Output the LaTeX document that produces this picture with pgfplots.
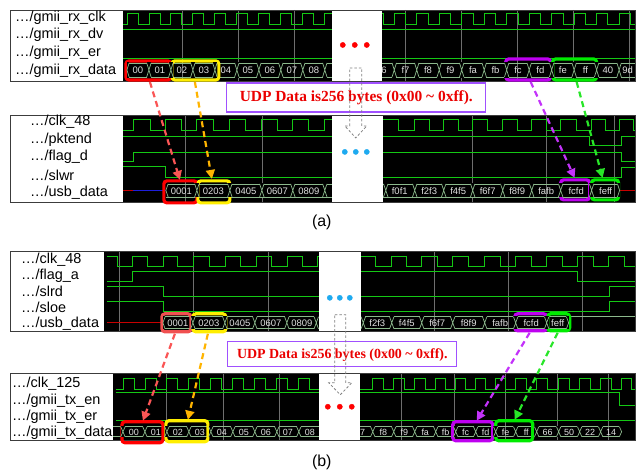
\documentclass[border=0pt]{standalone}
\usepackage{pgfplots}
\pgfplotsset{compat=1.18}
\usepackage{fontspec}
\setmainfont{Liberation Sans}
\newfontfamily\timesf{Liberation Serif}
\usetikzlibrary{arrows.meta}
\definecolor{wave}{RGB}{20,200,20}
\definecolor{busc}{RGB}{140,185,140}
\definecolor{bustxt}{RGB}{225,225,225}
\definecolor{gridc}{RGB}{110,110,110}
\definecolor{framec}{RGB}{60,60,60}
\definecolor{hred}{RGB}{255,0,0}
\definecolor{hredl}{RGB}{240,80,80}
\definecolor{hyel}{RGB}{255,238,0}
\definecolor{hpur}{RGB}{190,0,240}
\definecolor{hgrn}{RGB}{0,235,0}
\definecolor{ared}{RGB}{250,85,85}
\definecolor{aora}{RGB}{255,180,0}
\definecolor{apur}{RGB}{195,50,250}
\definecolor{agrn}{RGB}{40,230,40}
\definecolor{tboxc}{RGB}{160,80,255}
\definecolor{tred}{RGB}{235,0,0}
\definecolor{dotb}{RGB}{30,170,240}
\definecolor{zred}{RGB}{200,0,0}
\definecolor{zblue}{RGB}{30,30,220}
\pgfdeclareplotmark{busx}{%
  \pgfpathrectangle{\pgfpoint{-2.2bp}{-\pgfplotmarksize-0.6bp}}{\pgfpoint{4.4bp}{2\pgfplotmarksize+1.2bp}}%
  \pgfsetfillcolor{black}\pgfusepathqfill
  \pgfpathmoveto{\pgfpoint{-2.2bp}{\pgfplotmarksize}}%
  \pgfpathlineto{\pgfpoint{2.2bp}{-\pgfplotmarksize}}%
  \pgfpathmoveto{\pgfpoint{-2.2bp}{-\pgfplotmarksize}}%
  \pgfpathlineto{\pgfpoint{2.2bp}{\pgfplotmarksize}}%
  \pgfusepathqstroke}
\pgfdeclareplotmark{busl}{%
  \pgfpathrectangle{\pgfpoint{-0.3bp}{-\pgfplotmarksize-0.6bp}}{\pgfpoint{2.5bp}{2\pgfplotmarksize+1.2bp}}%
  \pgfsetfillcolor{black}\pgfusepathqfill
  \pgfpathmoveto{\pgfpoint{2.2bp}{\pgfplotmarksize}}%
  \pgfpathlineto{\pgfpoint{0bp}{0bp}}%
  \pgfpathlineto{\pgfpoint{2.2bp}{-\pgfplotmarksize}}%
  \pgfusepathqstroke}
\pgfdeclareplotmark{busr}{%
  \pgfpathrectangle{\pgfpoint{-2.2bp}{-\pgfplotmarksize-0.6bp}}{\pgfpoint{2.5bp}{2\pgfplotmarksize+1.2bp}}%
  \pgfsetfillcolor{black}\pgfusepathqfill
  \pgfpathmoveto{\pgfpoint{-2.2bp}{\pgfplotmarksize}}%
  \pgfpathlineto{\pgfpoint{0bp}{0bp}}%
  \pgfpathlineto{\pgfpoint{-2.2bp}{-\pgfplotmarksize}}%
  \pgfusepathqstroke}
\tikzset{
  sig/.style={font=\fontsize{14.5}{15}\selectfont, anchor=west, inner sep=0pt, text=black},
  blab/.style={font=\fontsize{9.5}{10}\selectfont, text=bustxt, inner sep=0pt, anchor=center},
  blabs/.style={font=\fontsize{9}{10}\selectfont, text=bustxt, inner sep=0pt, anchor=center},
  hbox/.style={line width=3.2bp, rounded corners=3bp},
  darr/.style={line width=2.2bp, dash pattern=on 6bp off 4bp, -{Triangle[length=9bp,width=9bp]}},
}
\begin{document}
\begin{tikzpicture}
\begin{axis}[scale only axis, width=636bp, height=475bp,
  xmin=0, xmax=636, ymin=0, ymax=475, y dir=reverse,
  hide axis, clip=false]
\path (axis cs:0,0) rectangle (axis cs:636,475);
% ---------------- black backgrounds
\fill[black] (axis cs:123,10) rectangle (axis cs:636,81);
\fill[black] (axis cs:123,115) rectangle (axis cs:636,203);
\fill[black] (axis cs:104,252) rectangle (axis cs:636,332);
\fill[black] (axis cs:113,374) rectangle (axis cs:636,441);
% ---------------- grid lines
\foreach \g in {182,238,294,406,462,518,574,630} {\edef\tmp{\noexpand\draw[gridc, line width=0.6bp] (axis cs:\g,10) -- (axis cs:\g,81);}\tmp}
\foreach \g in {185,262,473,547,615} {\edef\tmp{\noexpand\draw[gridc, line width=0.6bp] (axis cs:\g,115) -- (axis cs:\g,203);}\tmp}
\foreach \g in {119,193,268,435,509,583} {\edef\tmp{\noexpand\draw[gridc, line width=0.6bp] (axis cs:\g,252) -- (axis cs:\g,332);}\tmp}
\foreach \g in {166,223,279,402,455,506,558,609} {\edef\tmp{\noexpand\draw[gridc, line width=0.6bp] (axis cs:\g,374) -- (axis cs:\g,441);}\tmp}

% ================= PANEL (a) TOP =================
\addplot[wave, line width=0.8bp, const plot] coordinates {(123,24)(127,13)(138,24)(149,13)(160,24)(171,13)(182,24)(193,13)(204,24)(215,13)(226,24)(237,13)(248,24)(259,13)(270,24)(281,13)(292,24)(303,13)(314,24)(325,13)(336,24)(372,13)(383.25,24)(394.5,13)(405.75,24)(417,13)(428.25,24)(439.5,13)(450.75,24)(462,13)(473.25,24)(484.5,13)(495.75,24)(507,13)(518.25,24)(529.5,13)(540.75,24)(552,13)(563.25,24)(574.5,13)(585.75,24)(597,13)(608.25,24)(619.5,13)(630.75,24)(636,24)};
\addplot[wave, line width=0.8bp] coordinates {(123,29)(636,29)};
\addplot[wave, line width=0.8bp] coordinates {(123,58)(636,58)};
\addplot[busc, line width=0.7bp] coordinates {(127,63)(636,63)};
\addplot[busc, line width=0.7bp] coordinates {(127,77)(636,77)};
\addplot[busc, line width=0.7bp, only marks, mark=busl, mark size=7bp] coordinates {(127,70)};
\addplot[busc, line width=0.7bp, only marks, mark=busx, mark size=7bp] coordinates {(149,70)(171,70)(193,70)(215,70)(237,70)(259,70)(281,70)(303,70)(325,70)(394.5,70)(417,70)(439.5,70)(462,70)(484.5,70)(507,70)(529.5,70)(552,70)(574.5,70)(597,70)(619.5,70)};
\foreach \x/\t in {138/00,160/01,182/02,204/03,226/04,248/05,270/06,292/07,314/08,383/f6,405.75/f7,428.25/f8,450.75/f9,473.25/fa,495.75/fb,518.25/fc,540.75/fd,563.25/fe,585.75/ff,608.25/40,628/9d} {\edef\tmp{\noexpand\node[blab] at (axis cs:\x,70.5) {\t};}\tmp}

% ================= PANEL (a) BOTTOM =================
\addplot[wave, line width=0.8bp, const plot] coordinates {(123,130)(133,119)(150,130)(166,119)(182,130)(197,119)(213.5,130)(230,119)(246,130)(262,119)(277.5,130)(293,119)(309,130)(325,119)(341,130)(383,119)(399,130)(415,119)(429.5,130)(444,119)(458.5,130)(473,119)(488,130)(503,119)(517.5,130)(532,119)(546.5,130)(561,119)(576.5,130)(592,119)(606,130)(620,119)(634,130)(636,130)};
\addplot[wave, line width=0.8bp, const plot] coordinates {(123,136)(590,145)(622,136)(636,136)};
\addplot[wave, line width=0.8bp, const plot] coordinates {(123,162)(133,152)(622,162)(636,162)};
\addplot[wave, line width=0.8bp, const plot] coordinates {(123,167)(166,178)(622,168)(636,168)};
\addplot[zred, line width=0.8bp] coordinates {(123,190.5)(133,190.5)};
\addplot[zblue, line width=0.8bp] coordinates {(133,190.5)(166,190.5)};
\addplot[zred, line width=0.8bp] coordinates {(620,190.5)(636,190.5)};
\addplot[busc, line width=0.7bp] coordinates {(166,184)(620,184)};
\addplot[busc, line width=0.7bp] coordinates {(166,197)(620,197)};
\addplot[busc, line width=0.7bp, only marks, mark=busl, mark size=6.5bp] coordinates {(166,190.5)};
\addplot[busc, line width=0.7bp, only marks, mark=busr, mark size=6.5bp] coordinates {(620,190.5)};
\addplot[busc, line width=0.7bp, only marks, mark=busx, mark size=6.5bp] coordinates {(197,190.5)(230,190.5)(262,190.5)(293,190.5)(325,190.5)(386,190.5)(415,190.5)(444,190.5)(473,190.5)(503,190.5)(532,190.5)(561,190.5)(592,190.5)};
\foreach \x/\t in {181.5/0001,213.5/0203,246/0405,277.5/0607,309/0809,400/f0f1,429.5/f2f3,458.5/f4f5,488/f6f7,517.5/f8f9,546.5/fafb,576.5/fcfd,606/feff} {\edef\tmp{\noexpand\node[blab] at (axis cs:\x,191) {\t};}\tmp}

% ================= PANEL (b) TOP =================
\addplot[wave, line width=0.8bp, const plot] coordinates {(107,257)(117,267)(132,257)(147,267)(163,257)(178,267)(194,257)(210,267)(226,257)(241,267)(257,257)(272,267)(288,257)(303,267)(318,257)(334,267)(361,257)(376,267)(392,257)(407,267)(422,257)(437.5,267)(453,257)(469,267)(485,257)(500.5,267)(516,257)(531.5,267)(547,257)(562.5,267)(578,257)(593.5,267)(609,257)(624.5,267)(636,267)};
\addplot[wave, line width=0.8bp, const plot] coordinates {(107,282)(132,272)(578,282)(636,282)};
\addplot[wave, line width=0.8bp, const plot] coordinates {(107,287)(163,297)(610,287)(636,287)};
\addplot[wave, line width=0.8bp, const plot] coordinates {(107,302)(163,312)(610,302)(636,302)};
\addplot[zred, line width=0.8bp] coordinates {(107,323)(163,323)};
\addplot[busc, line width=0.7bp] coordinates {(569,317)(636,317)};
\addplot[busc, line width=0.7bp] coordinates {(163,317)(569,317)};
\addplot[busc, line width=0.7bp] coordinates {(163,329)(569,329)};
\addplot[busc, line width=0.7bp, only marks, mark=busl, mark size=6bp] coordinates {(163,323)};
\addplot[busc, line width=0.7bp, only marks, mark=busr, mark size=6bp] coordinates {(569,323)};
\addplot[busc, line width=0.7bp, only marks, mark=busx, mark size=6bp] coordinates {(193,323)(225,323)(255,323)(287,323)(316.5,323)(363.5,323)(392,323)(422,323)(453,323)(485,323)(516,323)(547,323)};
\foreach \x/\t in {178/0001,209/0203,240/0405,271/0607,302/0809,377.5/f2f3,407/f4f5,437.5/f6f7,469/f8f9,500.5/fafb,531.5/fcfd,558/feff} {\edef\tmp{\noexpand\node[blab] at (axis cs:\x,323.5) {\t};}\tmp}

% ================= PANEL (b) BOTTOM =================
\addplot[wave, line width=0.8bp, const plot] coordinates {(116,390)(123,379)(134,390)(145,379)(156,390)(167,379)(178,390)(189,379)(200,390)(211,379)(222,390)(233,379)(244,390)(255,379)(266,390)(277,379)(288,390)(299,379)(310,390)(321,379)(332,390)(360,390)(373,379)(383.5,390)(394,379)(404.5,390)(415,379)(425.5,390)(436,379)(446,390)(456,379)(466,390)(476,379)(486,390)(496,379)(506,390)(516,379)(526.5,390)(537,379)(548,390)(559,379)(569.5,390)(580,379)(590.5,390)(601,379)(611.5,390)(622,379)(632,390)(636,390)};
\addplot[wave, line width=0.8bp, const plot] coordinates {(116,393)(620,406)(636,406)};
\addplot[wave, line width=0.8bp] coordinates {(116,421)(636,421)};
\addplot[busc, line width=0.7bp] coordinates {(113,427)(622,427)};
\addplot[busc, line width=0.7bp] coordinates {(113,437)(622,437)};
\addplot[busc, line width=0.7bp, only marks, mark=busr, mark size=5bp] coordinates {(622,432)};
\addplot[busc, line width=0.7bp, only marks, mark=busx, mark size=5bp] coordinates {(123,432)(145,432)(167,432)(189,432)(211,432)(233,432)(255,432)(277,432)(299,432)(373,432)(394,432)(415,432)(436,432)(456,432)(476,432)(496,432)(516,432)(537,432)(559,432)(580,432)(601,432)};
\foreach \x/\t in {134/00,156/01,178/02,200/03,222/04,244/05,266/06,288/07,310/08,361.5/f7,383.5/f8,404.5/f9,425.5/fa,446/fb,466/fc,486/fd,506/fe,526.5/ff,548/66,569.5/50,590.5/22,611.5/14} {\edef\tmp{\noexpand\node[blabs] at (axis cs:\x,432.5) {\t};}\tmp}

% ---------------- gaps
\fill[white] (axis cs:332,10.4) rectangle (axis cs:382,81);
\fill[white] (axis cs:332,115.4) rectangle (axis cs:383,205);
\fill[white] (axis cs:319,252.4) rectangle (axis cs:361,332);
\fill[white] (axis cs:319,374.4) rectangle (axis cs:360,441);
% ---------------- frames
\draw[framec, line width=0.8bp] (axis cs:10,10) rectangle (axis cs:635.6,81);
\draw[framec, line width=0.8bp] (axis cs:10,115) rectangle (axis cs:635.6,203);
\draw[framec, line width=0.8bp] (axis cs:10,252) rectangle (axis cs:635.6,332);
\draw[framec, line width=0.8bp] (axis cs:10,374) rectangle (axis cs:635.6,441);

% ---------------- signal names
\node[sig] at (axis cs:15,18) {…/gmii\_rx\_clk};
\node[sig] at (axis cs:15,35) {…/gmii\_rx\_dv};
\node[sig] at (axis cs:15,53) {…/gmii\_rx\_er};
\node[sig] at (axis cs:15,71) {…/gmii\_rx\_data};
\node[sig] at (axis cs:30,122) {…/clk\_48};
\node[sig] at (axis cs:30,140) {…/pktend};
\node[sig] at (axis cs:30,157) {…/flag\_d};
\node[sig] at (axis cs:30,175) {…/slwr};
\node[sig] at (axis cs:30,193) {…/usb\_data};
\node[sig] at (axis cs:21,260) {…/clk\_48};
\node[sig] at (axis cs:21,276) {…/flag\_a};
\node[sig] at (axis cs:21,292) {…/slrd};
\node[sig] at (axis cs:21,308) {…/sloe};
\node[sig] at (axis cs:21,324) {…/usb\_data};
\node[sig] at (axis cs:12,384) {…/clk\_125};
\node[sig] at (axis cs:12,401) {…/gmii\_tx\_en};
\node[sig] at (axis cs:12,417) {…/gmii\_tx\_er};
\node[sig] at (axis cs:12,433) {…/gmii\_tx\_data};

% ---------------- text boxes
\draw[tboxc, line width=1.2bp, fill=white] (axis cs:227,83) rectangle (axis cs:486,112);
\node[text=tred, font=\timesf\bfseries\fontsize{15.5}{17}\selectfont, inner sep=0pt] at (axis cs:356.5,98) {UDP Data is256 bytes (0x00 \textasciitilde{} 0xff).};
\draw[tboxc, line width=1.2bp, fill=white] (axis cs:228,342) rectangle (axis cs:457,367);
\node[text=tred, font=\timesf\bfseries\fontsize{14}{15}\selectfont, inner sep=0pt] at (axis cs:342.5,355) {UDP Data is256 bytes (0x00 \textasciitilde{} 0xff).};

% ---------------- gray dashed block arrows
\draw[gray, line width=0.8bp, dash pattern=on 2.5bp off 2bp] (axis cs:350,68) -- (axis cs:362,68) -- (axis cs:362,126) -- (axis cs:367,126) -- (axis cs:356,138) -- (axis cs:345,126) -- (axis cs:350,126) -- cycle;
\draw[gray, line width=0.8bp, dash pattern=on 2.5bp off 2bp] (axis cs:335,315) -- (axis cs:346,315) -- (axis cs:346,383) -- (axis cs:352,383) -- (axis cs:340.5,395) -- (axis cs:329,383) -- (axis cs:335,383) -- cycle;

% ---------------- dots
\addplot[only marks, mark=*, mark size=2.6bp, color=red] coordinates {(343,45)(355,45)(367,45)};
\addplot[only marks, mark=*, mark size=2.6bp, color=dotb] coordinates {(345,152)(356,152)(367,152)};
\addplot[only marks, mark=*, mark size=2.6bp, color=dotb] coordinates {(330,298)(340,298)(350,298)};
\addplot[only marks, mark=*, mark size=2.6bp, color=red] coordinates {(328,407)(340,407)(352,407)};

% ---------------- highlight boxes
\draw[hbox, hred] (axis cs:126,61) rectangle (axis cs:171,80);
\draw[hbox, hyel] (axis cs:172,61) rectangle (axis cs:219,80);
\draw[hbox, hpur] (axis cs:506,59) rectangle (axis cs:551,80);
\draw[hbox, hgrn] (axis cs:553,59) rectangle (axis cs:597,80);
\draw[hbox, hred] (axis cs:164,181) rectangle (axis cs:197,203);
\draw[hbox, hyel] (axis cs:198,181) rectangle (axis cs:230,203);
\draw[hbox, hpur] (axis cs:561,180) rectangle (axis cs:590,200);
\draw[hbox, hgrn] (axis cs:592,180) rectangle (axis cs:619,200);
\draw[hbox, hredl] (axis cs:162,314) rectangle (axis cs:191,332);
\draw[hbox, hyel] (axis cs:193,314) rectangle (axis cs:226,332);
\draw[hbox, hpur] (axis cs:515,314) rectangle (axis cs:547,331);
\draw[hbox, hgrn] (axis cs:548,314) rectangle (axis cs:570,331);
\draw[hbox, hred] (axis cs:122,422) rectangle (axis cs:163,443);
\draw[hbox, hyel] (axis cs:166,421) rectangle (axis cs:208,442);
\draw[hbox, hpur] (axis cs:453,422) rectangle (axis cs:493,441);
\draw[hbox, hgrn] (axis cs:496,421) rectangle (axis cs:533,441);

% ---------------- dashed arrows
\addplot[darr, ared] coordinates {(150,82)(180,180)};
\addplot[darr, aora] coordinates {(195,82)(212,179)};
\addplot[darr, apur] coordinates {(531,82)(575,178)};
\addplot[darr, agrn] coordinates {(577,82)(603,178)};
\addplot[darr, ared] coordinates {(175,334)(143,421)};
\addplot[darr, aora] coordinates {(208,334)(188,420)};
\addplot[darr, apur] coordinates {(530,333)(477,421)};
\addplot[darr, agrn] coordinates {(558,333)(515,420)};

% ---------------- panel captions
\node[font=\fontsize{16}{18}\selectfont, inner sep=0pt] at (axis cs:322,223) {(a)};
\node[font=\fontsize{16}{18}\selectfont, inner sep=0pt] at (axis cs:322,463) {(b)};
\end{axis}
\end{tikzpicture}
\end{document}
